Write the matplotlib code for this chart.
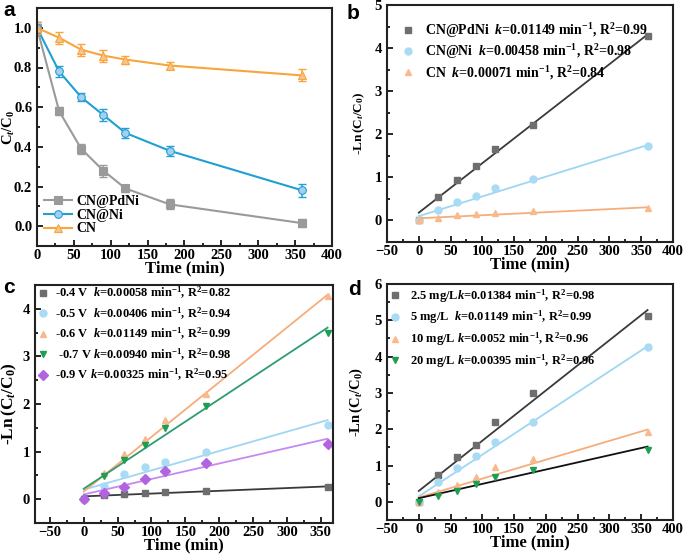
import matplotlib.pyplot as plt
from matplotlib.ticker import MultipleLocator
import numpy as np

plt.rcParams['font.family'] = 'Liberation Serif'
plt.rcParams['font.weight'] = 'bold'
plt.rcParams['axes.labelweight'] = 'bold'
plt.rcParams['mathtext.fontset'] = 'custom'
plt.rcParams['mathtext.rm'] = 'Liberation Serif:bold'
plt.rcParams['mathtext.it'] = 'Liberation Serif:bold:italic'
plt.rcParams['mathtext.bf'] = 'Liberation Serif:bold'

t = np.array([0, 30, 60, 90, 120, 180, 360])

# panel a: Ct/C0 with error bars
a_pdni = [1.0, 0.58, 0.39, 0.28, 0.19, 0.11, 0.015]
a_pdni_err = [0.03, 0.02, 0.025, 0.03, 0.02, 0.025, 0.02]
a_ni = [1.0, 0.78, 0.65, 0.56, 0.47, 0.38, 0.18]
a_ni_err = [0.03, 0.03, 0.02, 0.03, 0.025, 0.025, 0.035]
a_cn = [1.0, 0.95, 0.89, 0.86, 0.84, 0.81, 0.76]
a_cn_err = [0.03, 0.03, 0.03, 0.03, 0.02, 0.02, 0.03]

# panel b: -ln(Ct/C0), k and intercept of the fits
b_labels = ["CN@PdNi  $\\mathit{k}$=0.01149 min$^{-1}$, R$^{2}$=0.99",
            "CN@Ni  $\\mathit{k}$=0.00458 min$^{-1}$, R$^{2}$=0.98",
            "CN  $\\mathit{k}$=0.00071 min$^{-1}$, R$^{2}$=0.84"]
b_vals = [[0, 0.54, 0.94, 1.27, 1.66, 2.21, 4.27],
          [0, 0.25, 0.43, 0.57, 0.75, 0.97, 1.72],
          [0, 0.05, 0.12, 0.15, 0.17, 0.21, 0.28]]
b_k = [0.01149, 0.00458, 0.00071]
b_b0 = [0.18, 0.10, 0.05]

# panel c: potentials
c_labels = ["-0.4 V  $\\mathit{k}$=0.00058 min$^{-1}$, R$^{2}$=0.82",
            "-0.5 V  $\\mathit{k}$=0.00406 min$^{-1}$, R$^{2}$=0.94",
            "-0.6 V  $\\mathit{k}$=0.01149 min$^{-1}$, R$^{2}$=0.99",
            " -0.7 V $\\mathit{k}$=0.00940 min$^{-1}$, R$^{2}$=0.98",
            "-0.9 V $\\mathit{k}$=0.00325 min$^{-1}$, R$^{2}$=0.95"]
c_vals = [[0, 0.08, 0.11, 0.14, 0.16, 0.17, 0.25],
          [0, 0.28, 0.52, 0.67, 0.79, 0.99, 1.56],
          [0, 0.55, 0.94, 1.27, 1.66, 2.21, 4.27],
          [0, 0.48, 0.82, 1.14, 1.49, 1.95, 3.50],
          [0, 0.12, 0.26, 0.43, 0.60, 0.76, 1.17]]
c_k = [0.00058, 0.00406, 0.01149, 0.00940, 0.00325]
c_b0 = [0.06, 0.20, 0.16, 0.22, 0.10]

# panel d: concentrations
d_labels = ["2.5 mg/L$\\mathit{k}$=0.01384 min$^{-1}$, R$^{2}$=0.98",
            "5 mg/L  $\\mathit{k}$=0.01149 min$^{-1}$, R$^{2}$=0.99",
            "10 mg/L $\\mathit{k}$=0.0052 min$^{-1}$, R$^{2}$=0.96",
            "20 mg/L $\\mathit{k}$=0.00395 min$^{-1}$, R$^{2}$=0.96"]
d_vals = [[0, 0.73, 1.24, 1.56, 2.21, 3.00, 5.12],
          [0, 0.55, 0.94, 1.27, 1.66, 2.21, 4.27],
          [0, 0.27, 0.47, 0.68, 0.95, 1.17, 1.92],
          [0, 0.15, 0.30, 0.50, 0.68, 0.88, 1.43]]
d_k = [0.01384, 0.01149, 0.0052, 0.00395]
d_b0 = [0.30, 0.15, 0.12, 0.10]

gray_m, gray_l = "#6e6e6e", "#3a3a3a"
blue_m, blue_l = "#a9dbf5", "#9fd6f3"
orng_m, orng_l = "#f9b98c", "#f6ad7a"
green_m, green_l = "#1e9e52", "#2f9c70"
purp_m, purp_l = "#b264e0", "#c589ef"

fig = plt.figure(figsize=(6.91, 5.55), dpi=100)
W, H = 691, 555


def add_ax(l, t_, r, b):
    return fig.add_axes([l / W, 1 - b / H, (r - l) / W, (b - t_) / H])


def style(ax, xlim, ylim, xmaj, ymaj, ylabel, ysize, ylx):
    ax.set_xlim(*xlim)
    ax.set_ylim(*ylim)
    ax.xaxis.set_major_locator(MultipleLocator(xmaj))
    ax.xaxis.set_minor_locator(MultipleLocator(xmaj / 2))
    ax.yaxis.set_major_locator(MultipleLocator(ymaj))
    ax.yaxis.set_minor_locator(MultipleLocator(ymaj / 2))
    ax.tick_params(which='both', direction='in', top=False, right=False,
                   labelsize=10.5, width=1.2)
    ax.tick_params(which='major', length=4)
    ax.tick_params(which='minor', length=2)
    ax.tick_params(axis='x', pad=2)
    for s in ax.spines.values():
        s.set_linewidth(1.5)
        s.set_color('#222222')
    ax.set_xlabel("Time (min)", fontsize=12, labelpad=-1)
    ax.set_ylabel(ylabel, fontsize=ysize)
    ax.yaxis.set_label_coords(ylx, 0.5)


def legend_at(ax, x, y, fs, spacing, hl, pad, **kw):
    ax.legend(loc='upper left', bbox_to_anchor=(x / W, 1 - y / H),
              bbox_transform=fig.transFigure, frameon=False, fontsize=fs,
              borderpad=0, borderaxespad=0, labelspacing=spacing,
              handlelength=hl, handletextpad=pad, **kw)


ylab = "-Ln$\\,$(C$_t$/C$_0$)"

axa = add_ax(37, 8, 332, 246)
axb = add_ax(387, 5, 673, 242)
axc = add_ax(35, 285, 333, 523)
axd = add_ax(387, 284, 673, 520)

# a
for y, e, lc, mc, m, lab in [(a_pdni, a_pdni_err, "#9a9a9a", "#9a9a9a", 's', 'CN@PdNi'),
                             (a_ni, a_ni_err, "#1f9fd2", "#a5cff0", 'o', 'CN@Ni'),
                             (a_cn, a_cn_err, "#f7a53c", "#f9c38e", '^', 'CN')]:
    axa.errorbar(t, y, yerr=e, fmt='none', ecolor=lc, capsize=3, elinewidth=1.1)
    axa.plot(t, y, color=lc, marker=m, markersize=5.5, markerfacecolor=mc,
             markeredgecolor=lc, markeredgewidth=0.8, lw=1.5, label=lab)
style(axa, (0, 400), (-0.1, 1.1), 50, 0.2, "C$_t$/C$_0$", 10.5, -0.068)
axa.yaxis.set_minor_locator(MultipleLocator(0.1))
axa.yaxis.set_major_formatter(plt.FormatStrFormatter('%.1f'))
legend_at(axa, 44, 195, 10, 0.05, 2.0, 0.3)

tf = np.array([0, 360])


def kinetic(ax, vals, ks, b0s, labels, mcols, lcols, markers):
    for v, k, b0, lab, mc, lc, m in zip(vals, ks, b0s, labels, mcols, lcols, markers):
        ax.plot(tf, b0 + k * tf, color=lc, lw=1.3)
        ax.plot(t, v, ls='none', marker=m, color=mc, markersize=5, label=lab)


kinetic(axb, b_vals, b_k, b_b0, b_labels, [gray_m, blue_m, orng_m],
        [gray_l, blue_l, orng_l], ['s', 'o', '^'])
style(axb, (-50, 400), (-0.5, 5), 50, 1, ylab, 9.5, -0.07)
legend_at(axb, 401, 21, 10, 0.18, 1.0, 0.73)

kinetic(axc, c_vals, c_k, c_b0, c_labels,
        [gray_m, blue_m, orng_m, green_m, purp_m],
        [gray_l, blue_l, orng_l, green_l, purp_l], ['s', 'o', '^', 'v', 'D'])
style(axc, (-72, 368), (-0.5, 4.5), 50, 1, ylab, 12.5, -0.055)
axc.set_xticks(np.arange(-50, 351, 50))
legend_at(axc, 37, 285, 9, 0.34, 1.0, 0.46)

kinetic(axd, d_vals, d_k, d_b0, d_labels, [gray_m, blue_m, orng_m, green_m],
        [gray_l, blue_l, orng_l, "#111111"], ['s', 'o', '^', 'v'])
style(axd, (-50, 400), (-0.5, 6), 50, 1, ylab, 10.5, -0.078)
legend_at(axd, 389, 287, 9, 0.34, 1.0, 0.68)

for lab, (x, y) in zip("abcd", [(3, 1), (347, 4), (3, 278), (348, 280)]):
    fig.text(x / W, 1 - y / H, lab, fontsize=15, fontweight='bold',
             family='Liberation Sans', va='top', ha='left')

fig.savefig("out.png", dpi=100)
